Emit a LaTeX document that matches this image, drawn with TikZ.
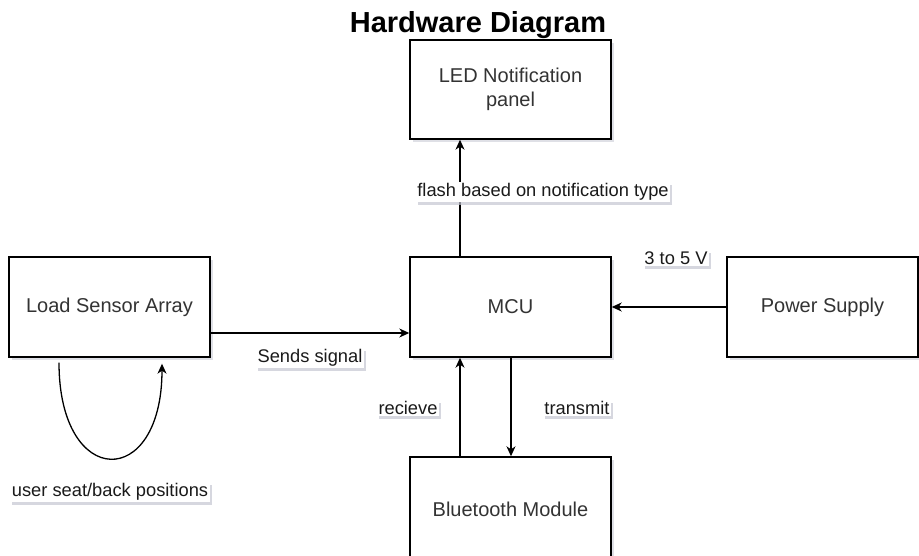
\documentclass[tikz,border=0pt]{standalone}
\usepackage{fontspec}
\setmainfont{Liberation Sans}
\usetikzlibrary{arrows.meta,shadows}
\definecolor{boxtext}{HTML}{333333}
\definecolor{lbltext}{HTML}{1A1A1A}
\definecolor{shade}{HTML}{C4C6D2}

\tikzset{
  unit/.style={draw=black, line width=1.4pt, fill=white, inner sep=0pt,
    minimum width=201pt, minimum height=100pt, align=center, text=boxtext,
    font=\fontsize{20}{24}\selectfont,
    drop shadow={shadow xshift=3pt, shadow yshift=-3pt, fill=shade, opacity=0.55}},
  lbl/.style={fill=white, inner sep=1.5pt, text=lbltext,
    font=\fontsize{18.3}{22}\selectfont,
    drop shadow={shadow xshift=2pt, shadow yshift=-3pt, fill=shade, opacity=0.7}},
  wire/.style={line width=1.3pt, -{Stealth[length=10pt,width=9pt,inset=3pt]}},
}

\begin{document}
\begin{tikzpicture}[x=1pt, y=-1pt]
  \useasboundingbox (0,0) rectangle (919,556);
  \clip (0,0) rectangle (919,556);

  \node[anchor=base, font=\fontsize{29}{34}\selectfont\bfseries] (title) at (478,33) {Hardware Diagram};

  % blocks
  \node[unit, minimum height=99pt] (led) at (510.5,89.5) {LED Notification\\panel};
  \node[unit] (mcu) at (510.5,307) {MCU};
  \node[unit] (load) at (109.5,307) {Load Sensor Array};
  \node[unit, minimum width=191pt] (power) at (822.5,307) {Power Supply};
  \node[unit, minimum height=104pt] (bt) at (510.5,509) {Bluetooth Module};

  % connectors
  \draw[wire] ([xshift=-50.5pt]mcu.north) -- ([xshift=-50.5pt]led.south);
  \draw[wire] (power.west) -- (mcu.east);
  \draw[wire] ([yshift=-26pt]load.east) -- ([yshift=-26pt]mcu.west);
  \draw[wire] ([xshift=-50.5pt,yshift=-5pt]load.south) .. controls +(0,127) and +(0,127) .. ([xshift=52.5pt,yshift=-6pt]load.south);
  \draw[wire] ([xshift=-50.5pt]bt.north) -- ([xshift=-50.5pt]mcu.south);
  \draw[wire] ([xshift=0.5pt]mcu.south) -- ([xshift=0.5pt]bt.north);

  % labels
  \node[lbl] (flashlbl) at (543,192) {flash based on notification type};
  \node[lbl] (voltlbl) at (676,258) {3 to 5 V};
  \node[lbl] (sendlbl) at (310,358) {Sends signal};
  \node[lbl] (seatlbl) at (110,492) {user seat/back positions};
  \node[lbl] (rxlbl) at (408,408) {recieve};
  \node[lbl] (txlbl) at (577,408) {transmit};
\end{tikzpicture}
\end{document}
